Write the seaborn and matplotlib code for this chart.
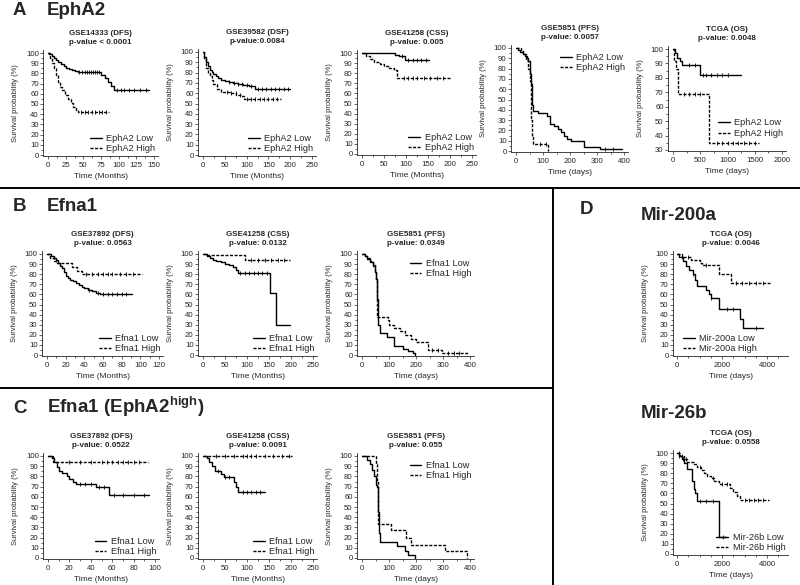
import numpy as np
import pandas as pd
import matplotlib
matplotlib.use("Agg")
import matplotlib.pyplot as plt
from matplotlib.lines import Line2D
from matplotlib.ticker import MultipleLocator
import seaborn as sns

# ---- data (time, survival %) ----
# A: EphA2
a1_low_t = [0, 2, 5, 8, 11, 14, 18, 22, 26, 30, 34, 38, 42, 75, 80, 85, 89, 94]
a1_low_s = [100, 99, 97, 95, 93, 91, 89, 87, 85, 84, 83, 82, 81, 78, 75, 72, 68, 64]
a1_low_end = 143
a1_low_cens = [44, 48, 52, 55, 58, 61, 64, 67, 70, 72, 98, 103, 108, 115, 122, 130, 138]
a1_high_t = [0, 3, 6, 9, 11, 14, 17, 20, 24, 28, 32, 36, 39, 42]
a1_high_s = [100, 95, 90, 85, 78, 72, 67, 64, 59, 55, 51, 47, 44, 42]
a1_high_end = 86
a1_high_cens = [46, 52, 57, 62, 67, 72, 77, 82]

a2_low_t = [0, 3, 8, 12, 16, 20, 24, 30, 35, 42, 50, 60, 69, 80, 92, 105, 120]
a2_low_s = [100, 95, 90, 86, 83, 81, 79, 77, 75, 73, 72, 71, 70, 69, 68, 67, 64]
a2_low_end = 200
a2_low_cens = [60, 70, 80, 90, 100, 110, 125, 135, 145, 155, 165, 175, 185, 195]
a2_high_t = [0, 3, 8, 12, 16, 20, 24, 31, 42, 61, 76, 88, 93]
a2_high_s = [100, 93, 84, 80, 77, 73, 69, 64, 61, 60, 58, 57, 54]
a2_high_end = 180
a2_high_cens = [55, 65, 75, 85, 100, 110, 120, 130, 140, 150, 160, 170]

a3_low_t = [0, 75, 85, 98]
a3_low_s = [100, 98, 97, 93]
a3_low_end = 152
a3_low_cens = [90, 105, 115, 125, 135, 145]
a3_high_t = [0, 10, 18, 28, 40, 50, 62, 72, 80]
a3_high_s = [100, 97, 94, 91, 89, 87, 85, 83, 75]
a3_high_end = 200
a3_high_cens = [95, 105, 115, 125, 140, 155, 170, 185]

a4_low_t = [0, 8, 15, 25, 33, 40, 46, 50, 53, 56, 58, 60, 62, 80, 115, 125, 140,
            155, 165, 178, 190, 205, 250, 310]
a4_low_s = [100, 98, 96, 94, 92, 90, 87, 82, 75, 65, 55, 45, 39, 37, 34, 26, 24,
            21, 18, 15, 12, 10, 4, 2]
a4_low_end = 392
a4_low_cens = [330, 360]
a4_high_t = [0, 20, 27, 38, 45, 50, 54, 57, 60, 63, 120]
a4_high_s = [100, 97, 94, 88, 80, 68, 50, 30, 15, 7, 0]
a4_high_end = 120
a4_high_cens = [90, 110]

a5_low_t = [0, 40, 80, 120, 160, 500]
a5_low_s = [100, 97, 94, 92, 89, 82]
a5_low_end = 1240
a5_low_cens = [300, 400, 550, 600, 700, 800, 900, 1000]
a5_high_t = [0, 25, 60, 90, 665]
a5_high_s = [100, 92, 86, 69, 35]
a5_high_end = 1570
a5_high_cens = [200, 300, 400, 500, 800, 900, 1000, 1100, 1200, 1300, 1400, 1500]

# B: Efna1
b1_low_t = [0, 4, 7, 10, 12, 14, 16, 18, 20, 22, 25, 28, 31, 34, 37, 40, 44, 48, 52, 57]
b1_low_s = [100, 98, 96, 94, 91, 88, 86, 82, 78, 76, 74, 73, 71, 69, 67, 66, 64, 63, 61, 60]
b1_low_end = 91
b1_low_cens = [45, 55, 60, 65, 70, 75, 80, 85]
b1_high_t = [0, 3, 7, 10, 27, 32, 37]
b1_high_s = [100, 96, 93, 91, 87, 83, 80]
b1_high_end = 102
b1_high_cens = [42, 48, 55, 60, 65, 70, 78, 85, 92]

b2_low_t = [0, 8, 15, 22, 30, 40, 50, 60, 68, 75, 80, 152, 166]
b2_low_s = [100, 98, 96, 94, 93, 92, 90, 89, 87, 84, 81, 61, 30]
b2_low_end = 198
b2_low_cens = [85, 95, 105, 115, 125, 135, 145]
b2_high_t = [0, 10, 95]
b2_high_s = [100, 99, 94]
b2_high_end = 197
b2_high_cens = [110, 125, 140, 155, 170, 185]

b3_low_t = [0, 10, 20, 30, 40, 48, 52, 55, 58, 61, 65, 94, 120, 150, 170, 190, 198]
b3_low_s = [100, 98, 95, 92, 88, 82, 75, 55, 38, 30, 22, 18, 9, 6, 4, 2, 0]
b3_low_end = 198
b3_low_cens = []
b3_high_t = [0, 10, 20, 30, 40, 48, 52, 56, 95, 100, 120, 140, 160, 180, 200, 245, 295]
b3_high_s = [100, 98, 96, 93, 89, 83, 75, 38, 35, 30, 27, 24, 20, 16, 13, 5, 2]
b3_high_end = 395
b3_high_cens = [260, 280, 320, 340, 360]

# C: Efna1 in EphA2-high
c1_low_t = [0, 4, 6, 8, 10, 13, 18, 20, 23, 26, 45, 57]
c1_low_s = [100, 98, 94, 89, 85, 83, 80, 77, 75, 73, 70, 62]
c1_low_end = 94
c1_low_cens = [30, 35, 40, 48, 52, 62, 70, 80, 90]
c1_high_t = [0, 5]
c1_high_s = [100, 94]
c1_high_end = 93
c1_high_cens = [20, 30, 40, 50, 55, 60, 65, 70, 75, 80, 85]

c2_low_t = [0, 8, 14, 20, 28, 40, 48, 70, 74, 79]
c2_low_s = [100, 98, 94, 90, 85, 82, 79, 75, 70, 65]
c2_low_end = 142
c2_low_cens = [35, 50, 60, 90, 100, 110, 120, 130]
c2_high_t = [0]
c2_high_s = [100]
c2_high_end = 202
c2_high_cens = [30, 50, 70, 90, 100, 110, 120, 140, 160, 180, 195]

c3_low_t = [0, 20, 30, 38, 45, 52, 57, 60, 63, 67, 130, 160, 170, 198]
c3_low_s = [100, 96, 92, 86, 80, 72, 70, 45, 25, 16, 12, 7, 3, 0]
c3_low_end = 198
c3_low_cens = []
c3_high_t = [0, 50, 55, 60, 107, 162, 180, 308, 388]
c3_high_s = [100, 92, 75, 33, 27, 20, 13, 7, 0]
c3_high_end = 388
c3_high_cens = []

# D: miRNAs (TCGA)
d1_low_t = [0, 100, 250, 400, 550, 700, 800, 900, 1300, 1400, 1500, 1850, 2780, 2950]
d1_low_s = [100, 97, 93, 88, 84, 80, 74, 68, 64, 60, 56, 46, 36, 27]
d1_low_end = 3800
d1_low_cens = [200, 700, 1500, 2200, 2500, 3500]
d1_high_t = [0, 200, 600, 1000, 1100, 1850, 2400]
d1_high_s = [100, 97, 94, 91, 89, 80, 71]
d1_high_end = 4150
d1_high_cens = [500, 1300, 2600, 2900, 3200, 3500, 3800]

d2_low_t = [0, 100, 200, 300, 450, 650, 740, 820, 900, 1870]
d2_low_s = [100, 97, 94, 90, 84, 72, 64, 60, 52, 17]
d2_low_end = 2180
d2_low_cens = [100, 250, 1000, 1300, 1600, 2050]
d2_high_t = [0, 150, 300, 450, 750, 900, 1050, 1200, 1350, 1500, 1650, 1850, 2350, 2500, 2650, 2800]
d2_high_s = [100, 97, 94, 91, 89, 86, 83, 80, 77, 75, 72, 69, 65, 61, 57, 53]
d2_high_end = 4100
d2_high_cens = [100, 200, 400, 1000, 1600, 2000, 2200, 3000, 3200, 3400, 3600, 3800]

# tick labels
xt_150 = [0, 25, 50, 75, 100, 125, 150]
xt_250 = [0, 50, 100, 150, 200, 250]
xt_400 = [0, 100, 200, 300, 400]
xt_2000 = [0, 500, 1000, 1500, 2000]
xt_120 = [0, 20, 40, 60, 80, 100, 120]
xt_100 = [0, 20, 40, 60, 80, 100]
xt_4000 = [0, 2000, 4000]
yt_100 = list(range(0, 101, 10))
yt_30 = list(range(30, 101, 10))

W, H = 800, 585
sns.set_style("ticks")
plt.rcParams["font.family"] = ["Liberation Sans", "DejaVu Sans"]
plt.rcParams["mathtext.fontset"] = "custom"
plt.rcParams["mathtext.rm"] = "Liberation Sans"
plt.rcParams["mathtext.bf"] = "Liberation Sans:bold"

fig = plt.figure(figsize=(W / 100, H / 100), dpi=100)


def place_axes(px0, px1, ptop, pbot, xmax, ymin, ymax, xend=None):
    sx = (px1 - px0) / xmax
    xlo = -0.045 * xmax
    xhi = xend if xend else 1.04 * xmax
    yr = ymax - ymin
    sy = (pbot - ptop) / yr
    ylo = ymin - 0.01 * yr
    yhi = ymax + 0.03 * yr
    left = px0 + xlo * sx
    right = px0 + xhi * sx
    top = ptop - (yhi - ymax) * sy
    bottom = pbot + (ymin - ylo) * sy
    ax = fig.add_axes([left / W, 1 - bottom / H, (right - left) / W, (bottom - top) / H])
    ax.set_xlim(xlo, xhi)
    ax.set_ylim(ylo, yhi)
    return ax


def km_curve(ax, t, s, end, cens, label, dashed):
    df = pd.DataFrame({"t": list(t) + [end], "s": list(s) + [s[-1]]})
    ls = (0, (2.2, 1.1)) if dashed else "-"
    sns.lineplot(data=df, x="t", y="s", ax=ax, drawstyle="steps-post", color="black",
                 lw=1.0, linestyle=ls, estimator=None, sort=False, label=label)
    if len(cens):
        idx = np.searchsorted(t, cens, side="right") - 1
        cy = np.asarray(s)[idx]
        sns.scatterplot(x=cens, y=cy, ax=ax, marker="|", s=9, color="black",
                        linewidth=0.6, zorder=3)


# legend anchor per location (nudged to where the original legends sit)
anchors = {"lower right": (1, 0), "upper right": (1, 0.95), "lower left": (0.06, 0)}


def panel(box, title, gene, low, high, xticks, xminor, yticks, xlabel, loc, xend=None, lift=0.0):
    px0, px1, ptop, pbot = box
    ax = place_axes(px0, px1, ptop, pbot, xticks[-1], yticks[0], yticks[-1], xend)
    km_curve(ax, *low, label=f"{gene} Low", dashed=False)
    km_curve(ax, *high, label=f"{gene} High", dashed=True)
    ax.set_xticks(xticks)
    ax.set_yticks(yticks)
    ax.xaxis.set_minor_locator(MultipleLocator(xminor))
    ax.yaxis.set_minor_locator(MultipleLocator(5))
    ax.tick_params(axis="both", which="major", length=2.2, width=0.5, labelsize=5.6)
    ax.tick_params(axis="both", which="minor", length=1.6, width=0.5)
    ax.tick_params(axis="x", pad=2)
    ax.tick_params(axis="y", pad=1)
    sns.despine(ax=ax)
    for sp in ("left", "bottom"):
        ax.spines[sp].set_linewidth(0.6)
    ax.set_title(title, fontsize=5.8, fontweight="bold", pad=4, linespacing=1.45)
    ax.set_xlabel(xlabel, fontsize=6, labelpad=3)
    ax.set_ylabel("Survival probability (%)", fontsize=5.4, labelpad=5)
    bx, by = anchors[loc]
    ax.legend(loc=loc, bbox_to_anchor=(bx, by + lift), frameon=False, fontsize=6.6,
              handlelength=1.3, handletextpad=0.5, labelspacing=0.15,
              borderaxespad=0.15, borderpad=0.15)
    return ax


tm, td = "Time (Months)", "Time (days)"
panel((48, 154, 53, 155), "GSE14333 (DFS)\np-value < 0.0001", "EphA2",
      (a1_low_t, a1_low_s, a1_low_end, a1_low_cens), (a1_high_t, a1_high_s, a1_high_end, a1_high_cens),
      xt_150, 12.5, yt_100, tm, "lower right")
panel((203, 312, 52, 155), "GSE39582 (DSF)\np-value:0.0084", "EphA2",
      (a2_low_t, a2_low_s, a2_low_end, a2_low_cens), (a2_high_t, a2_high_s, a2_high_end, a2_high_cens),
      xt_250, 25, yt_100, tm, "lower right")
panel((362, 472, 53, 154), "GSE41258 (CSS)\np-value: 0.005", "EphA2",
      (a3_low_t, a3_low_s, a3_low_end, a3_low_cens), (a3_high_t, a3_high_s, a3_high_end, a3_high_cens),
      xt_250, 25, yt_100, tm, "lower right")
panel((516, 624, 48, 151), "GSE5851 (PFS)\np-value: 0.0057", "EphA2",
      (a4_low_t, a4_low_s, a4_low_end, a4_low_cens), (a4_high_t, a4_high_s, a4_high_end, a4_high_cens),
      xt_400, 50, yt_100, td, "upper right")
panel((673, 782, 49, 150), "TCGA (OS)\np-value: 0.0048", "EphA2",
      (a5_low_t, a5_low_s, a5_low_end, a5_low_cens), (a5_high_t, a5_high_s, a5_high_end, a5_high_cens),
      xt_2000, 250, yt_30, td, "lower right", lift=0.1)

panel((47, 159, 254, 355), "GSE37892 (DFS)\np-value: 0.0563", "Efna1",
      (b1_low_t, b1_low_s, b1_low_end, b1_low_cens), (b1_high_t, b1_high_s, b1_high_end, b1_high_cens),
      xt_120, 10, yt_100, tm, "lower right")
panel((203, 313, 254, 355), "GSE41258 (CSS)\np-value: 0.0132", "Efna1",
      (b2_low_t, b2_low_s, b2_low_end, b2_low_cens), (b2_high_t, b2_high_s, b2_high_end, b2_high_cens),
      xt_250, 25, yt_100, tm, "lower right")
panel((362, 470, 254, 355), "GSE5851 (PFS)\np-value: 0.0349", "Efna1",
      (b3_low_t, b3_low_s, b3_low_end, b3_low_cens), (b3_high_t, b3_high_s, b3_high_end, b3_high_cens),
      xt_400, 50, yt_100, td, "upper right")
panel((677, 767, 254, 355), "TCGA (OS)\np-value: 0.0046", "Mir-200a",
      (d1_low_t, d1_low_s, d1_low_end, d1_low_cens), (d1_high_t, d1_high_s, d1_high_end, d1_high_cens),
      xt_4000, 500, yt_100, td, "lower left", xend=4950)

panel((48, 155, 456, 558), "GSE37892 (DFS)\np-value: 0.0522", "Efna1",
      (c1_low_t, c1_low_s, c1_low_end, c1_low_cens), (c1_high_t, c1_high_s, c1_high_end, c1_high_cens),
      xt_100, 10, yt_100, tm, "lower right")
panel((203, 313, 456, 558), "GSE41258 (CSS)\np-value: 0.0091", "Efna1",
      (c2_low_t, c2_low_s, c2_low_end, c2_low_cens), (c2_high_t, c2_high_s, c2_high_end, c2_high_cens),
      xt_250, 25, yt_100, tm, "lower right")
panel((362, 470, 456, 558), "GSE5851 (PFS)\np-value: 0.055", "Efna1",
      (c3_low_t, c3_low_s, c3_low_end, c3_low_cens), (c3_high_t, c3_high_s, c3_high_end, c3_high_cens),
      xt_400, 50, yt_100, td, "upper right")
panel((677, 767, 453, 554), "TCGA (OS)\np-value: 0.0558", "Mir-26b",
      (d2_low_t, d2_low_s, d2_low_end, d2_low_cens), (d2_high_t, d2_high_s, d2_high_end, d2_high_cens),
      xt_4000, 500, yt_100, td, "lower right", xend=4950)

# section headers
hdr = dict(fontsize=13.5, fontweight="bold", va="baseline", ha="left")
fig.text(13 / W, 1 - 15 / H, "A", **hdr)
fig.text(47 / W, 1 - 15 / H, "EphA2", **hdr)
fig.text(13 / W, 1 - 211 / H, "B", **hdr)
fig.text(47 / W, 1 - 211 / H, "Efna1", **hdr)
fig.text(13 / W, 1 - 413 / H, "C", **hdr)
fig.text(47 / W, 1 - 413 / H, r"Efna1 (EphA2$^{\mathbf{high}}$)", **hdr)
fig.text(580 / W, 1 - 214 / H, "D", **hdr)
fig.text(641 / W, 1 - 220 / H, "Mir-200a", **hdr)
fig.text(641 / W, 1 - 418 / H, "Mir-26b", **hdr)

# separator lines
fig.add_artist(Line2D([0, 1], [1 - 188 / H, 1 - 188 / H], transform=fig.transFigure, color="black", lw=1.4))
fig.add_artist(Line2D([0, 553 / W], [1 - 388 / H, 1 - 388 / H], transform=fig.transFigure, color="black", lw=1.4))
fig.add_artist(Line2D([553 / W, 553 / W], [1 - 188 / H, 0], transform=fig.transFigure, color="black", lw=1.4))

fig.savefig("out.png", dpi=100)
